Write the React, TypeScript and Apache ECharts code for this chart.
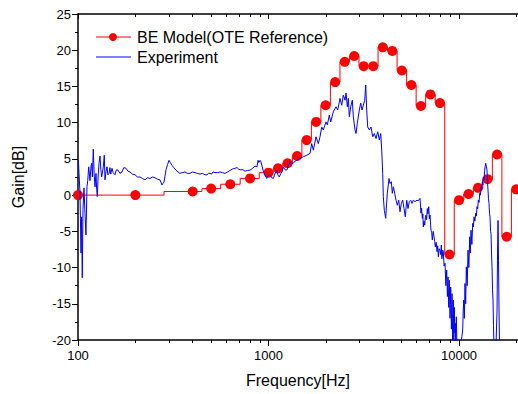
import React, { useEffect, useRef } from "react";
import * as echarts from "echarts";

// Series names
const modelName = "BE Model(OTE Reference)";
const expName = "Experiment";

// BE model gain (dB) at band centre frequencies (Hz)
const modelFreq = [
  100, 200, 400, 500, 630, 800, 1000, 1122, 1259, 1413, 1585, 1778, 1995, 2239,
  2512, 2818, 3162, 3548, 3981, 4467, 5012, 5623, 6310, 7079, 7943, 8913, 10000,
  11220, 12589, 14125, 15849, 17783, 19953,
];
const modelGain = [
  0, 0, 0.5, 0.9, 1.5, 2.3, 3.1, 3.7, 4.4, 5.4, 7.6, 10.1, 12.4, 15.6, 18.4,
  19.2, 17.8, 17.8, 20.4, 19.9, 17.2, 15.2, 12.3, 13.9, 12.7, -8.2, -0.7, 0.15,
  1.0, 2.2, 5.6, -5.75, 0.8,
];

// Measured gain (dB) vs frequency (Hz)
const expFreq = [
  100.5, 101.2, 102.4, 103.7, 104.5, 105.3, 106.2, 107.5, 108.8, 110.1, 111.5,
  112.5, 113.8, 115.6, 117, 118, 119, 120.3, 121.5, 122.8, 124.3, 125.3, 126.3,
  127.5, 128.9, 130.5, 131.8, 133.1, 135.8, 137.4, 138.6, 140.2, 142, 143.5,
  145.5, 147, 148.5, 150.8, 153, 156.4, 159, 162.2, 166, 170.2, 174, 178.6, 183,
  187.5, 193, 199.3, 205, 211.6, 218, 224.8, 231, 238.8, 246, 253.6, 261, 269.4,
  276, 279, 282.8, 286, 289.7, 295, 300.4, 305, 311.5, 318, 326.9, 335, 343.1,
  352, 364.5, 375, 387.2, 398, 411.3, 423, 437, 450, 464.2, 475.5, 484, 493.1,
  502, 511.3, 523.8, 540, 556.5, 573, 591.1, 610, 628, 647, 667.1, 683.4, 696,
  708.7, 734.8, 752.8, 775, 799.8, 825, 849.6, 870.4, 881, 890, 902.6, 910.3,
  935.9, 960, 978.5, 995, 1018.3, 1040, 1059.7, 1080, 1104, 1120, 1139.6, 1160,
  1177.4, 1196, 1221, 1246.3, 1270, 1297, 1320, 1349.7, 1380, 1406.3, 1463.5,
  1523.1, 1586.9, 1651.5, 1685.7, 1719, 1775.6, 1825.8, 1863.5, 1902.5, 1939.6,
  2003.6, 2035.7, 2085.5, 2121, 2189, 2261.5, 2308.8, 2373.6, 2423.3, 2470.6,
  2521.8, 2552.3, 2593, 2624.3, 2656.5, 2701.5, 2754.3, 2787.5, 2845.6, 2880,
  2925.5, 2997, 3048.1, 3096.4, 3145.3, 3199, 3238, 3277.3, 3317, 3382, 3452.6,
  3524, 3593, 3667.7, 3743.6, 3816.7, 3882, 3929, 3976.6, 4005, 4054, 4123, 4160,
  4203.6, 4290.6, 4343, 4412, 4466, 4520, 4597, 4670, 4744, 4825, 4901, 4979,
  5064, 5144, 5225, 5315, 5399, 5484, 5578, 5666, 5756, 5875, 6019, 6092, 6241,
  6280, 6317, 6360, 6417, 6460, 6495, 6550, 6607, 6660, 6712, 6760, 6818, 6870,
  6935, 6990, 7045, 7090, 7130, 7190, 7243, 7320, 7394, 7450, 7511, 7590, 7667,
  7730, 7788, 7870, 7950, 8010, 8075, 8120, 8173, 8220, 8272, 8350, 8444, 8530,
  8619, 8690, 8757, 8830, 8895, 8970, 9047, 9120, 9191, 9260, 9336, 9400, 9449,
  9500, 9564, 9620, 9679, 9760, 9845, 10000, 10120, 10245, 10350, 10457, 10520,
  10585, 10670, 10752, 10840, 10923, 11040, 11149, 11260, 11382, 11470, 11561,
  11680, 11801, 11900, 11988, 12110, 12238, 12330, 12432, 12530, 12628, 12740,
  12844, 12950, 13047, 13150, 13253, 13330, 13415, 13530, 13644, 13720, 13809,
  13900, 14028, 14110, 14198, 14280, 14372, 14460, 14546, 14640, 14723, 14810,
  14902, 14990, 15083, 15170, 15266, 15584, 15832, 15930, 16024, 16120, 16218,
  16320, 16416,
];
const expGain = [
  4.8, 3.0, 0.5, -8.0, -3, -11.4, -2, 1.0, -2.5, -5.5, 1.2, 2.0, 3.9, 2.0, 4.0,
  4.4, 2.5, 6.35, 3.0, 1.15, 3.0, 0.8, -0.2, 2.5, 4.4, 5.4, 3.5, 2.5, 3.9, 5.5,
  2.1, 3.2, 3.9, 2.8, 3.0, 3.8, 2.9, 3.7, 3.1, 2.8, 3.5, 3.45, 3.0, 3.2, 3.8, 3.7,
  3.3, 3.2, 2.9, 2.8, 2.5, 2.5, 2.3, 2.1, 2.4, 2.3, 2.5, 2.4, 2.2, 2.1, 1.4, 1.6,
  1.8, 2.6, 3.5, 4.2, 4.8, 4.5, 4.1, 3.8, 3.45, 3.2, 3.0, 3.1, 3.2, 3.0, 3.0,
  3.2, 3.1, 3.0, 2.9, 3.0, 2.8, 2.8, 3.0, 3.0, 2.9, 3.2, 3.1, 3.1, 3.2, 3.1, 3.0,
  3.2, 3.4, 3.6, 3.7, 3.8, 3.6, 3.5, 3.5, 3.3, 3.4, 3.45, 3.7, 4.0, 3.9, 4.8,
  4.5, 4.8, 4.7, 3.45, 2.8, 2.3, 2.7, 2.8, 2.4, 2.3, 2.9, 3.45, 2.8, 2.5, 3.0,
  3.2, 3.9, 3.5, 3.45, 4.0, 4.6, 4.3, 4.4, 4.7, 4.8, 5.05, 5.3, 5.5, 5.75, 7.1,
  6.2, 8.05, 7.1, 8.05, 9.4, 9.0, 10.1, 9.7, 11.05, 10.1, 11.5, 12.2, 11.75,
  13.35, 12.4, 13.8, 13.1, 14.1, 12.2, 13.35, 10.8, 12.2, 13.1, 10.8, 9.0, 8.5,
  9.9, 11.75, 12.7, 11.75, 12.4, 13.1, 15.2, 11.75, 9.4, 9.0, 9.4, 8.05, 8.5,
  7.8, 8.75, 7.6, 8.5, 6.2, 3.0, -0.2, -2.1, -3.2, -1.5, 0.25, 2.3, 1.6, 1.85,
  0.25, 1.15, 0.25, -0.7, -1.4, -0.7, -2.3, -1.15, -0.7, -1.85, -3.0, -0.7,
  -1.85, -0.9, -0.7, -1.15, -0.7, -0.9, -0.7, -0.8, -0.45, -1.5, -2.5, -1.8,
  -3.2, -2.6, -4.4, -3.6, -4.15, -3.0, -2.75, -3.4, -1.85, -2.6, -1.6, -3.3,
  -2.75, -4.0, -4.85, -5.2, -6.2, -5.0, -5.75, -6.4, -7.15, -6.5, -7.8, -7.0,
  -8.5, -7.4, -7.6, -8.2, -6.9, -8.8, -8.5, -7.6, -7.8, -9.8, -9.4, -12.5,
  -10.35, -14.0, -11.3, -15.5, -11.75, -17.0, -12.7, -18.5, -13.6, -20.0, -14.5,
  -21.0, -15.5, -19.0, -17.7, -20.5, -16.8, -21, -22, -22, -21.5, -20.5, -19.5,
  -18.6, -16.0, -14.5, -17.0, -12.2, -15.0, -9.9, -12.5, -7.6, -10.0, -5.75,
  -8.0, -4.85, -6.8, -3.9, -4.4, -3.0, -3.6, -2.5, -2.9, -1.6, -1.9, -0.7, -1.0,
  0.25, 0.0, 1.15, 0.8, 1.85, 1.4, 2.5, 2.2, 3.45, 4.0, 4.4, 4.0, 3.45, 1.8, 0.7,
  -0.5, -1.15, -2.5, -3.0, -5.0, -5.3, -8.0, -9.9, -13.0, -14.5, -18.0, -21, -22,
  -16, -8, -3.5, -9, -16, -21, -22,
];

// Axis ticks
const xMajorTicks = [100, 1000, 10000];
const xMinorTicks = [
  200, 300, 400, 500, 600, 700, 800, 900, 2000, 3000, 4000, 5000, 6000, 7000,
  8000, 9000, 20000,
];
const xMin = 100;
const xMax = 20400;
const yMin = -20;
const yMax = 25;
const yStep = 5;

const FONT = 'Arial, "Liberation Sans", Helvetica, sans-serif';
const AXIS_LINE = { color: "#000", width: 1.5 };
const TICK_LINE = { color: "#000", width: 1 };

export default function App() {
  const ref = useRef<HTMLDivElement>(null);

  useEffect(() => {
    if (!ref.current) return;
    const chart = echarts.init(ref.current, undefined, { renderer: "svg" });

    const logAxisBase = {
      type: "log" as const,
      logBase: 10,
      min: xMin,
      max: xMax,
      splitLine: { show: false },
      minorSplitLine: { show: false },
    };

    chart.setOption({
      animation: false,
      backgroundColor: "#fff",
      textStyle: { fontFamily: FONT },
      grid: { left: 78, right: 0, top: 14, bottom: 54, containLabel: false },
      xAxis: [
        {
          ...logAxisBase,
          position: "bottom",
          axisLine: { show: true, onZero: false, lineStyle: AXIS_LINE },
          axisTick: { show: true, length: 6, customValues: xMajorTicks, lineStyle: TICK_LINE },
          axisLabel: {
            show: true,
            customValues: xMajorTicks,
            margin: 9,
            color: "#000",
            fontSize: 13,
            fontFamily: FONT,
            formatter: (v: number) => String(Math.round(v)),
          },
          name: "Frequency[Hz]",
          nameLocation: "middle",
          nameGap: 32,
          nameTextStyle: { color: "#000", fontSize: 16, fontFamily: FONT },
        },
        {
          ...logAxisBase,
          position: "bottom",
          axisLine: { show: false, onZero: false },
          axisTick: { show: true, length: 3, customValues: xMinorTicks, lineStyle: TICK_LINE },
          axisLabel: { show: false },
        },
        {
          ...logAxisBase,
          position: "top",
          axisLine: { show: true, onZero: false, lineStyle: AXIS_LINE },
          axisTick: { show: true, inside: true, length: 3, customValues: xMinorTicks, lineStyle: TICK_LINE },
          axisLabel: { show: false },
        },
        {
          ...logAxisBase,
          position: "top",
          axisLine: { show: false, onZero: false },
          axisTick: { show: true, inside: true, length: 5, customValues: xMajorTicks, lineStyle: TICK_LINE },
          axisLabel: { show: false },
        },
      ],
      yAxis: {
        type: "value",
        min: yMin,
        max: yMax,
        interval: yStep,
        axisLine: { show: true, onZero: false, lineStyle: AXIS_LINE },
        axisTick: { show: true, length: 6, lineStyle: TICK_LINE },
        minorTick: { show: true, splitNumber: 2, length: 3, lineStyle: TICK_LINE },
        splitLine: { show: false },
        minorSplitLine: { show: false },
        axisLabel: { color: "#000", fontSize: 13, fontFamily: FONT, margin: 7 },
        name: "Gain[dB]",
        nameLocation: "middle",
        nameGap: 52,
        nameTextStyle: { color: "#000", fontSize: 16, fontFamily: FONT },
      },
      series: [
        {
          name: modelName,
          type: "line",
          xAxisIndex: 0,
          yAxisIndex: 0,
          step: "middle",
          data: modelFreq.map((f, i) => [f, modelGain[i]]),
          symbol: "circle",
          symbolSize: 10,
          showSymbol: true,
          lineStyle: { color: "#ff0000", width: 1 },
          itemStyle: { color: "#ff0000" },
          z: 2,
        },
        {
          name: expName,
          type: "line",
          xAxisIndex: 0,
          yAxisIndex: 0,
          data: expFreq.map((f, i) => [f, expGain[i]]),
          symbol: "none",
          showSymbol: false,
          clip: true,
          lineStyle: { color: "#0000ff", width: 1 },
          itemStyle: { color: "#0000ff" },
          z: 3,
        },
      ],
      graphic: [
        {
          type: "line",
          shape: { x1: 96, y1: 37, x2: 131, y2: 37 },
          style: { stroke: "#ff0000", lineWidth: 1 },
        },
        {
          type: "circle",
          shape: { cx: 113, cy: 37, r: 4 },
          style: { fill: "#ff0000" },
        },
        {
          type: "text",
          x: 137,
          y: 37,
          style: { text: modelName, fill: "#000", font: `16px ${FONT}`, verticalAlign: "middle" },
        },
        {
          type: "line",
          shape: { x1: 96, y1: 57, x2: 131, y2: 57 },
          style: { stroke: "#0000ff", lineWidth: 1 },
        },
        {
          type: "text",
          x: 137,
          y: 57,
          style: { text: expName, fill: "#000", font: `16px ${FONT}`, verticalAlign: "middle" },
        },
      ],
    });

    return () => chart.dispose();
  }, []);

  return (
    <div
      ref={ref}
      style={{ position: "absolute", left: 0, top: 0, width: 518, height: 394 }}
    />
  );
}
